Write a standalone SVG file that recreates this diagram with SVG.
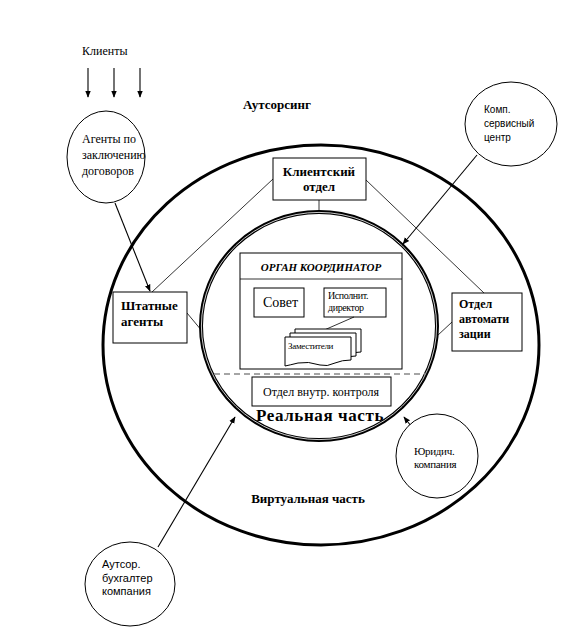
<svg xmlns="http://www.w3.org/2000/svg" width="573" height="630" viewBox="0 0 573 630">
<defs>
<style>
.s{font-family:"Liberation Serif","Times New Roman",serif;fill:#000}
.a{font-family:"Liberation Sans",Arial,sans-serif;fill:#000}
.b{font-weight:bold}
.box{fill:#fff;stroke:#000;stroke-width:1}
.ln{fill:none;stroke:#000;stroke-width:0.8}
.ar{fill:none;stroke:#000;stroke-width:1.1}
.circ{fill:#fff;stroke:#000;stroke-width:1}
</style>
<marker id="ah" viewBox="0 0 10 10" refX="9" refY="5" markerWidth="7" markerHeight="7" orient="auto" markerUnits="userSpaceOnUse">
<path d="M0,1 L10,5 L0,9 Z" fill="#000"/>
</marker>
</defs>
<rect width="573" height="630" fill="#fff"/>

<g id="outer-circle">
<ellipse cx="321" cy="345" rx="218" ry="200" fill="none" stroke="#000" stroke-width="3"/>
</g>

<g id="connectors">
<line class="ln" x1="273" y1="179" x2="152" y2="292"/>
<line class="ln" x1="366" y1="180" x2="484" y2="293"/>
<line class="ln" x1="319" y1="200" x2="319" y2="212"/>
<line class="ln" x1="187" y1="313" x2="202" y2="331"/>
<line class="ln" x1="452" y1="322" x2="437" y2="336"/>
<line class="ar" x1="88" y1="68" x2="88" y2="97" marker-end="url(#ah)"/>
<line class="ar" x1="114" y1="68" x2="114" y2="97" marker-end="url(#ah)"/>
<line class="ar" x1="140" y1="68" x2="140" y2="97" marker-end="url(#ah)"/>
<line class="ar" x1="115" y1="203" x2="150" y2="291" marker-end="url(#ah)"/>
<line class="ar" x1="477" y1="155" x2="403" y2="244" marker-end="url(#ah)"/>
<line class="ar" x1="411" y1="426" x2="404" y2="417" marker-end="url(#ah)"/>
<line class="ar" x1="158" y1="547" x2="235" y2="417" marker-end="url(#ah)"/>
</g>

<g id="inner-circle">
<ellipse cx="319" cy="326" rx="118" ry="114" fill="none" stroke="#000" stroke-width="4"/>
<ellipse cx="319" cy="326" rx="117.6" ry="113.6" fill="none" stroke="#fff" stroke-width="0.8"/>
<line x1="214" y1="374" x2="426" y2="374" stroke="#888" stroke-width="1.5" stroke-dasharray="6,4"/>
</g>

<text class="s" x="82" y="55" font-size="12">Клиенты</text>
<text class="s b" x="277" y="109" font-size="13" text-anchor="middle">Аутсорсинг</text>
<text class="s b" x="308" y="503" font-size="13" text-anchor="middle">Виртуальная часть</text>

<g id="agents-contract">
<ellipse class="circ" cx="106" cy="157" rx="39" ry="46"/>
<text class="s" font-size="12"><tspan x="82" y="143">Агенты по</tspan><tspan x="82" y="159">заключению</tspan><tspan x="82" y="175">договоров</tspan></text>
</g>

<g id="comp-service">
<ellipse class="circ" cx="511" cy="124" rx="46" ry="42"/>
<text class="a" font-size="10"><tspan x="484" y="113">Комп.</tspan><tspan x="484" y="127">сервисный</tspan><tspan x="484" y="141">центр</tspan></text>
</g>

<g id="client-dept">
<rect class="box" x="273" y="158" width="93" height="42"/>
<text class="s b" font-size="13" text-anchor="middle"><tspan x="319" y="176">Клиентский</tspan><tspan x="319" y="191">отдел</tspan></text>
</g>

<g id="staff-agents">
<rect class="box" x="113" y="292" width="74" height="51"/>
<text class="s b" font-size="13"><tspan x="121" y="310">Штатные</tspan><tspan x="121" y="326">агенты</tspan></text>
</g>

<g id="automation-dept">
<rect class="box" x="452" y="293" width="70" height="58"/>
<text class="s b" font-size="12"><tspan x="459" y="308">Отдел</tspan><tspan x="459" y="323">автомати</tspan><tspan x="459" y="338">зации</tspan></text>
</g>

<g id="coordinator">
<rect class="box" x="240" y="253" width="162" height="116"/>
<line class="ln" x1="240" y1="279" x2="402" y2="279"/>
<text class="s b" font-size="11" font-style="italic" text-anchor="middle" x="321" y="271">ОРГАН КООРДИНАТОР</text>
</g>

<g id="council">
<rect class="box" x="254" y="288" width="50" height="29"/>
<text class="s" font-size="14" x="263" y="307">Совет</text>
</g>

<g id="director">
<rect class="box" x="324" y="288" width="62" height="29"/>
<text class="s" font-size="10" letter-spacing="-0.4"><tspan x="328" y="299">Исполнит.</tspan><tspan x="328" y="311">директор</tspan></text>
</g>

<g id="deputies">
<line class="ln" x1="354" y1="317" x2="322" y2="331"/>
<path class="box" d="M295,329 H361 V352 Q352,352 345,355 Q337,359 330,357 Q318,353 308,355 Q300,357 295,358 Z"/>
<path class="box" d="M290,333 H356 V356 Q347,356 340,359 Q332,363 325,361 Q313,357 303,359 Q295,361 290,362 Z"/>
<path class="box" d="M285,337 H351 V360 Q342,360 335,363 Q327,367 320,365 Q308,361 298,363 Q290,365 285,366 Z"/>
<text class="s" font-size="9" x="288" y="349" letter-spacing="-0.3">Заместители</text>
</g>

<g id="internal-control">
<rect class="box" x="252" y="377" width="139" height="29"/>
<text class="s" font-size="12" x="321" y="396" text-anchor="middle">Отдел внутр. контроля</text>
</g>
<text class="s b" font-size="17" x="320" y="421" text-anchor="middle" letter-spacing="0.6">Реальная часть</text>

<g id="legal-company">
<ellipse class="circ" cx="437" cy="456" rx="41" ry="42"/>
<text class="s" font-size="11" letter-spacing="-0.3"><tspan x="414" y="455">Юридич.</tspan><tspan x="414" y="468">компания</tspan></text>
</g>

<g id="accounting-company">
<ellipse class="circ" cx="130" cy="584" rx="45" ry="42"/>
<text class="a" font-size="11"><tspan x="102" y="568">Аутсор.</tspan><tspan x="102" y="582">бухгалтер</tspan><tspan x="102" y="595">компания</tspan></text>
</g>
</svg>
